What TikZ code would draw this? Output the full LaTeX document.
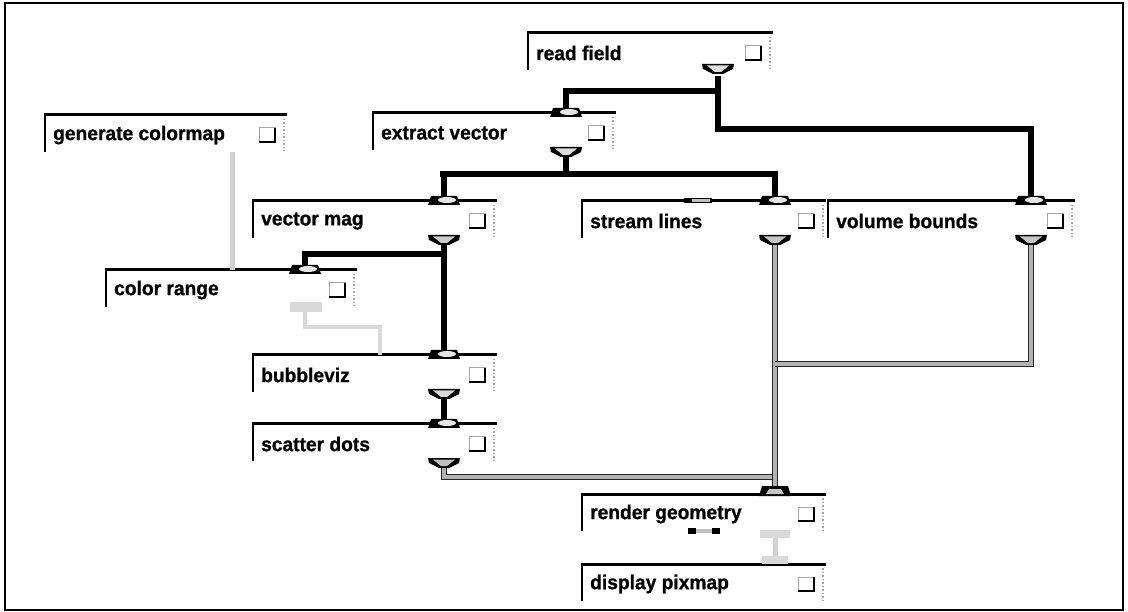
\documentclass[tikz,border=0pt]{standalone}
\usepackage{fontspec}
\setmainfont{Liberation Sans}[FakeStretch=0.96,FakeBold=0.8]
\begin{document}
\begin{tikzpicture}[x=1pt,y=-1pt,
  modtop/.style={line width=3pt,black},
  modleft/.style={line width=2pt,black},
  modright/.style={line width=1.5pt,gray!70,dotted},
  modlabel/.style={anchor=west,inner sep=0pt,font=\fontsize{20}{22}\selectfont\bfseries},
  wire/.style={line width=6pt,black},
  gwire/.style={line width=1.3pt,black!85,double=gray!60,double distance=3.4pt},
  lwire/.style={line width=5pt,gray!35},
  lwire2/.style={line width=4pt,gray!30},
]
\useasboundingbox (0,0) rectangle (1128,612);
\draw[line width=2pt] (5,3) rectangle (1123,610);

\newcommand\mmod[5]{%
  \draw[modtop] (#2,#3) -- (#4,#3);
  \draw[modleft] (#2,#3-1.5) -- (#2,#3+37);
  \draw[modright] (#4-3,#3+4) -- (#4-3,#3+36);
  \node[modlabel] (#1) at (#2+8,#3+20) {#5};
  \draw[line width=1pt,gray!70,fill=white] (#4-28,#3+13) rectangle (#4-12,#3+27);
  \draw[line width=2.4pt] (#4-28,#3+27) -- (#4-12,#3+27) -- (#4-12,#3+13);
}
% input port on top line
\newcommand\inport[3]{%
  \coordinate (#1) at (#2,#3);
  \fill[black] (#2-16,#3+4) -- (#2-13,#3-5) -- (#2+13,#3-5) -- (#2+16,#3+4) -- cycle;
  \fill[gray!20] (#2+3,#3-1) ellipse [x radius=9,y radius=3];
}
% output port under module
\newcommand\outport[4]{%
  \coordinate (#1) at (#2,#3+10);
  \fill[black] (#2-16,#3) -- (#2+16,#3) -- (#2+15,#3+5) -- (#2+5,#3+10) -- (#2-5,#3+10) -- (#2-15,#3+5) -- cycle;
  \fill[#4] (#2-11,#3+1.5) -- (#2+11,#3+1.5) -- (#2+3,#3+8) -- (#2-3,#3+8) -- cycle;
}

\coordinate (rfb) at (718,91);
\coordinate (rfb2) at (718,129);
\coordinate (evb) at (566,174);
\coordinate (vmb) at (444,254);
\coordinate (crb1) at (305,327);
\coordinate (crb2) at (380,327);

% ---------- modules ----------
\mmod{readfield}{528}{33}{773}{read field}
\mmod{extractvector}{373}{113}{616}{extract vector}
\mmod{gencolormap}{45}{115}{287}{generate colormap}
\mmod{vectormag}{253}{201}{497}{vector mag}
\mmod{streamlines}{582}{201}{826}{stream lines}
\mmod{volumebounds}{828}{201}{1075}{volume bounds}
\mmod{colorrange}{106}{270}{357}{color range}
\mmod{bubbleviz}{253}{355}{497}{bubbleviz}
\mmod{scatterdots}{253}{424}{497}{scatter dots}
\mmod{rendergeometry}{582}{494}{826}{render geometry}
\mmod{displaypixmap}{582}{564}{826}{display pixmap}

\coordinate (cr-i2) at (232,270);
\coordinate (bv-i2) at (380,355);

% wires
\draw[wire] (718,76) -- (rfb) -| (566,113);
\draw[wire] (rfb) -- (rfb2) -| (1031,201);
\draw[wire] (566,157) -- (evb);
\draw[wire] (444,174) -| (444,201);
\draw[wire] (440,174) -- (775,174) -- (775,201);
\draw[wire] (444,245) -- (vmb) -| (305,270);
\draw[wire] (vmb) -- (444,355);
\draw[wire] (444,392) -- (444,424);
\draw[gwire] (444,462) -- (444,477) -- (775,477);
\draw[gwire] (775,245) -- (775,494);
\draw[gwire] (1031,245) -- (1031,364) -- (775,364);
\draw[lwire] (232,152) -- (cr-i2);
\draw[lwire] (775,532) -- (775,564);
\draw[lwire2] (305,306) -- (crb1) -- (crb2) -- (bv-i2);

% ports
\outport{rf-o}{718}{64}{gray!25}
\inport{ev-i}{566}{113}
\outport{ev-o}{566}{147}{gray!25}
\inport{vm-i}{444}{201}
\outport{vm-o}{444}{235}{gray!40}
\inport{sl-i}{775}{201}
\outport{sl-o}{775}{235}{gray!45}
\inport{vb-i}{1031}{201}
\outport{vb-o}{1031}{235}{gray!45}
\inport{cr-i}{305}{270}
\fill[gray!30] (290,302) rectangle (322,312);
\inport{bv-i}{444}{355}
\outport{bv-o}{444}{389}{gray!30}
\inport{sd-i}{444}{424}
\outport{sd-o}{444}{458}{gray!50}
\fill[black] (759,496) -- (762,486) -- (788,486) -- (791,496) -- cycle;
\fill[gray!45] (766,494) -- (769,489) -- (781,489) -- (784,494) -- cycle;
\coordinate (rg-i) at (775,494);
\fill[gray!30] (760,530) rectangle (790,538);
\fill[gray!30] (762,556) rectangle (788,564);
\coordinate (dp-i) at (775,564);
% small marks
\fill[black] (684,198) rectangle (712,203);
\fill[gray!50] (692,199) rectangle (710,202);
\fill[black] (688,528) rectangle (696,534);
\fill[gray!50] (696,529) rectangle (712,533);
\fill[black] (712,528) rectangle (720,534);
\end{tikzpicture}
\end{document}
